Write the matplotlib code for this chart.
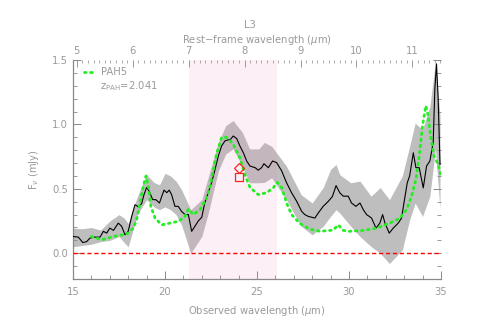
import numpy as np
import matplotlib
matplotlib.use("Agg")
import matplotlib.pyplot as plt
from matplotlib.ticker import MultipleLocator

# ---- data ----
z_pah = 2.041

spec_wave = [15.0, 15.29, 15.53, 15.74, 15.92, 16.1, 16.47, 16.65, 16.83, 17.0, 17.2, 17.46, 17.64,
             17.83, 18.0, 18.19, 18.37, 18.55, 18.73, 18.86, 19.0, 19.15, 19.33, 19.5, 19.7, 19.82,
             19.95, 20.1, 20.23, 20.36, 20.54, 20.72, 20.9, 21.09, 21.27, 21.45, 21.63, 21.81, 22.0,
             22.16, 22.35, 22.53, 22.72, 22.9, 23.08, 23.26, 23.44, 23.57, 23.71, 23.9, 24.07, 24.26,
             24.44, 24.62, 24.9, 25.07, 25.25, 25.38, 25.62, 25.85, 26.07, 26.34, 26.61, 26.88, 27.16,
             27.43, 27.6, 27.79, 28.15, 28.33, 28.6, 28.88, 29.1, 29.3, 29.5, 29.69, 29.96, 30.14,
             30.38, 30.6, 30.78, 30.96, 31.23, 31.47, 31.68, 31.83, 31.96, 32.19, 32.41, 32.68, 32.86,
             32.99, 33.17, 33.3, 33.5, 33.64, 33.82, 34.04, 34.22, 34.4, 34.58, 34.67, 34.76, 34.85,
             34.95]
spec_flux = [0.13, 0.125, 0.083, 0.09, 0.117, 0.125, 0.125, 0.17, 0.156, 0.195, 0.177, 0.234, 0.21,
             0.143, 0.17, 0.286, 0.377, 0.36, 0.385, 0.455, 0.51, 0.48, 0.416, 0.416, 0.39, 0.44,
             0.49, 0.47, 0.49, 0.455, 0.364, 0.364, 0.325, 0.3, 0.3, 0.17, 0.21, 0.25, 0.28,
             0.39, 0.47, 0.547, 0.65, 0.755, 0.833, 0.872, 0.88, 0.885, 0.91, 0.89, 0.833, 0.78,
             0.716, 0.677, 0.664, 0.645, 0.664, 0.695, 0.664, 0.716, 0.703, 0.64, 0.547, 0.47, 0.403,
             0.325, 0.3, 0.286, 0.273, 0.312, 0.364, 0.403, 0.44, 0.525, 0.47, 0.443, 0.443, 0.39,
             0.364, 0.39, 0.338, 0.3, 0.273, 0.195, 0.234, 0.3, 0.234, 0.156, 0.195, 0.234, 0.273,
             0.39, 0.547, 0.6, 0.78, 0.664, 0.664, 0.507, 0.677, 0.716, 0.86, 1.275, 1.47, 1.2,
             0.69]

band_wave = [15.0, 15.5, 16.0, 16.5, 17.0, 17.5, 17.8, 18.0, 18.5, 19.0, 19.4, 19.7, 20.0, 20.3,
             20.6, 20.9, 21.4, 22.0, 22.35, 22.9, 23.3, 23.7, 24.2, 24.6, 25.1, 25.4, 25.8, 26.6,
             27.4, 28.0, 28.6, 29.0, 29.3, 29.5, 30.1, 30.6, 31.2, 31.7, 32.2, 32.9, 33.3, 33.6,
             34.0, 34.4, 34.7, 34.95]
band_upper = [0.195, 0.19, 0.2, 0.18, 0.25, 0.3, 0.27, 0.23, 0.44, 0.61, 0.55, 0.53, 0.62, 0.6,
              0.56, 0.494, 0.338, 0.416, 0.59, 0.86, 0.99, 1.03, 0.94, 0.81, 0.81, 0.86, 0.83, 0.677,
              0.455, 0.39, 0.51, 0.65, 0.69, 0.61, 0.547, 0.56, 0.443, 0.51, 0.416, 0.6, 0.83, 1.01,
              0.96, 1.14, 1.48, 1.07]
band_lower = [0.05, 0.06, 0.07, 0.09, 0.1, 0.13, 0.08, 0.05, 0.3, 0.416, 0.36, 0.338, 0.36, 0.338,
              0.3, 0.22, 0.0, 0.13, 0.31, 0.64, 0.77, 0.81, 0.677, 0.547, 0.547, 0.55, 0.586, 0.416,
              0.21, 0.143, 0.21, 0.286, 0.338, 0.312, 0.21, 0.13, 0.052, 0.0, -0.08, 0.026, 0.26,
              0.39, 0.286, 0.443, 0.81, 0.34]

pah_wave = [16.0, 16.56, 17.2, 17.73, 18.0, 18.28, 18.46, 18.64, 18.82, 18.97, 19.1, 19.23, 19.46,
            19.82, 20.27, 20.72, 21.09, 21.27, 21.54, 21.9, 22.27, 22.45, 22.8, 23.08, 23.35, 23.71,
            24.07, 24.35, 24.62, 25.07, 25.53, 25.9, 26.1, 26.34, 26.61, 26.88, 27.34, 27.88, 28.42,
            28.97, 29.15, 29.42, 29.69, 30.05, 30.78, 31.5, 32.23, 32.77, 33.13, 33.4, 33.64, 33.82,
            34.0, 34.18, 34.31, 34.44, 34.62, 34.85, 35.03]
pah_flux = [0.13, 0.104, 0.13, 0.143, 0.156, 0.195, 0.26, 0.39, 0.52, 0.6, 0.52, 0.364, 0.273,
            0.22, 0.234, 0.247, 0.286, 0.344, 0.3, 0.338, 0.43, 0.52, 0.77, 0.9, 0.9, 0.846,
            0.742, 0.61, 0.51, 0.455, 0.47, 0.51, 0.55, 0.51, 0.39, 0.3, 0.23, 0.187, 0.17,
            0.177, 0.18, 0.22, 0.177, 0.17, 0.177, 0.195, 0.234, 0.273, 0.338, 0.443, 0.573, 0.755,
            0.99, 1.145, 1.067, 0.91, 0.755, 0.69, 0.586]

phot_wave = [24.0, 24.0]
phot_flux = [0.66, 0.59]
phot_markers = ["D", "s"]

band_span = (21.3, 26.1)

# ---- figure ----
txt = "#9a9a9a"
fs = 7.2
plt.rcParams["font.family"] = ["DejaVu Sans"]
plt.rcParams["font.size"] = fs
fig = plt.figure(figsize=(4.91, 3.27), dpi=100)
ax = fig.add_axes([0.1487, 0.1468, 0.898 - 0.1487, 0.8165 - 0.1468])

ax.fill_between(band_wave, band_lower, band_upper, color="#bebebe", lw=0, zorder=1)
ax.axvspan(band_span[0], band_span[1], color="#e87fb0", alpha=0.12, lw=0, zorder=2)
ax.plot(spec_wave, spec_flux, color="black", lw=0.8, zorder=3)
ax.plot(pah_wave, pah_flux, color="#22ee22", lw=2.0, ls=(0, (0.6, 1.6)),
        dash_capstyle="round", zorder=4, label="PAH5")
ax.axhline(0.0, color="#ff0000", lw=1.0, ls=(0, (3, 2)), zorder=3)
for w, f, m in zip(phot_wave, phot_flux, phot_markers):
    ax.plot([w], [f], marker=m, ms=5 if m == "D" else 6, mfc="none", mec="#ff2222",
            mew=0.9, ls="none", zorder=5)

ax.set_xlim(15, 35)
ax.set_ylim(-0.2, 1.5)
ax.xaxis.set_major_locator(MultipleLocator(5))
ax.xaxis.set_minor_locator(MultipleLocator(1))
ax.yaxis.set_major_locator(MultipleLocator(0.5))
ax.yaxis.set_minor_locator(MultipleLocator(0.1))
ax.yaxis.set_major_formatter(matplotlib.ticker.FormatStrFormatter("%.1f"))
ax.tick_params(which="both", direction="in", colors="#888888", labelcolor=txt,
               right=True, labelsize=fs)
ax.tick_params(which="major", length=6, width=0.7)
ax.tick_params(which="minor", length=3, width=0.6)
ax.tick_params(axis="x", pad=6)
for s in ["left", "bottom"]:
    ax.spines[s].set_color("#888888")
    ax.spines[s].set_linewidth(0.9)
for s in ["top", "right"]:
    ax.spines[s].set_visible(False)

ax.set_xlabel("Observed wavelength ($\\mu$m)", color=txt, fontsize=fs, labelpad=5)
ax.set_ylabel("F$_\\nu$ (mJy)", color=txt, fontsize=fs, labelpad=8)

sec = ax.secondary_xaxis("top", functions=(lambda x: x / (1 + z_pah), lambda x: x * (1 + z_pah)))
sec.xaxis.set_major_locator(MultipleLocator(1))
sec.xaxis.set_minor_locator(MultipleLocator(0.1))
sec.tick_params(which="both", direction="in", colors="#888888", labelcolor=txt, labelsize=fs, pad=3)
sec.tick_params(which="major", length=5, width=0.6)
sec.tick_params(which="minor", length=2.5, width=0.5)
sec.spines["top"].set_visible(False)
sec.set_xlabel("Rest$-$frame wavelength ($\\mu$m)", color=txt, fontsize=fs, labelpad=2)
fig.text(250 / 491, 1 - 25 / 327, "L3", color=txt, fontsize=fs, ha="center", va="center")

leg = ax.legend(loc="upper left", frameon=False, fontsize=fs, handlelength=1.1,
                handletextpad=0.6, borderaxespad=0.3, bbox_to_anchor=(0.01, 1.0))
for t in leg.get_texts():
    t.set_color(txt)
ax.text(0.073, 0.88, "z$_{\\rm PAH}$=2.041", transform=ax.transAxes, color=txt,
        fontsize=fs, va="center", ha="left")

fig.savefig("out.png", dpi=100)
